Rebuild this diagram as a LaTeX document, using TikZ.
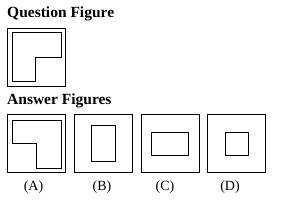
\documentclass[tikz,border=0pt]{standalone}
\usepackage{fontspec}
\setmainfont{Liberation Serif}
\usetikzlibrary{positioning}
\tikzset{
  heading/.style={
    anchor=base west,
    inner sep=0pt,
    font=\fontsize{15.5}{17}\selectfont\bfseries
  },
  frame/.style={
    rectangle,
    draw=black,
    line width=1pt,
    inner sep=0pt,
    minimum width=58pt,
    minimum height=58pt
  },
  inner/.style={
    rectangle,
    draw=black,
    line width=1pt,
    inner sep=0pt
  },
  shapeline/.style={
    draw=black,
    line width=1pt,
    line join=miter
  },
  caption/.style={
    inner sep=0pt,
    font=\fontsize{14}{16}\selectfont
  }
}
\begin{document}
\begin{tikzpicture}[x=1pt,y=-1pt]
  \useasboundingbox (0,0) rectangle (293,210);

  \node[heading] (qtitle) at (7,17) {Question Figure};
  \node[frame] (qbox) at (37,57) {};
  \draw[shapeline] ([shift={(5,5)}]qbox.north west) -- ([shift={(-5,5)}]qbox.north east)
    -- ([shift={(-5,0)}]qbox.east) -- ([shift={(-1,0)}]qbox.center)
    -- ([shift={(-1,-5)}]qbox.south) -- ([shift={(5,-5)}]qbox.south west) -- cycle;

  \node[heading] (atitle) at (7,104) {Answer Figures};

  \node[frame] (boxa) at (37,143.5) {};
  \node[frame] (boxb) at (104,143.5) {};
  \node[frame] (boxc) at (170.5,143.5) {};
  \node[frame] (boxd) at (237,143.5) {};

  \draw[shapeline] ([shift={(5,6.5)}]boxa.north west) -- ([shift={(-5,6.5)}]boxa.north east)
    -- ([shift={(-5,-4.5)}]boxa.south east) -- ([shift={(0,-4.5)}]boxa.south)
    -- ([shift={(0,-0.5)}]boxa.center) -- ([shift={(5,-0.5)}]boxa.west) -- cycle;
  \node[inner, minimum width=24pt, minimum height=36pt] (innerb) at (boxb.center) {};
  \node[inner, minimum width=37pt, minimum height=23pt] (innerc) at (boxc.center) {};
  \node[inner, minimum width=23pt, minimum height=23pt] (innerd) at (boxd.center) {};

  \node[caption] (capa) at (33.5,187) {(A)};
  \node[caption] (capb) at (102,187) {(B)};
  \node[caption] (capc) at (165,187) {(C)};
  \node[caption] (capd) at (230,187) {(D)};
\end{tikzpicture}
\end{document}
